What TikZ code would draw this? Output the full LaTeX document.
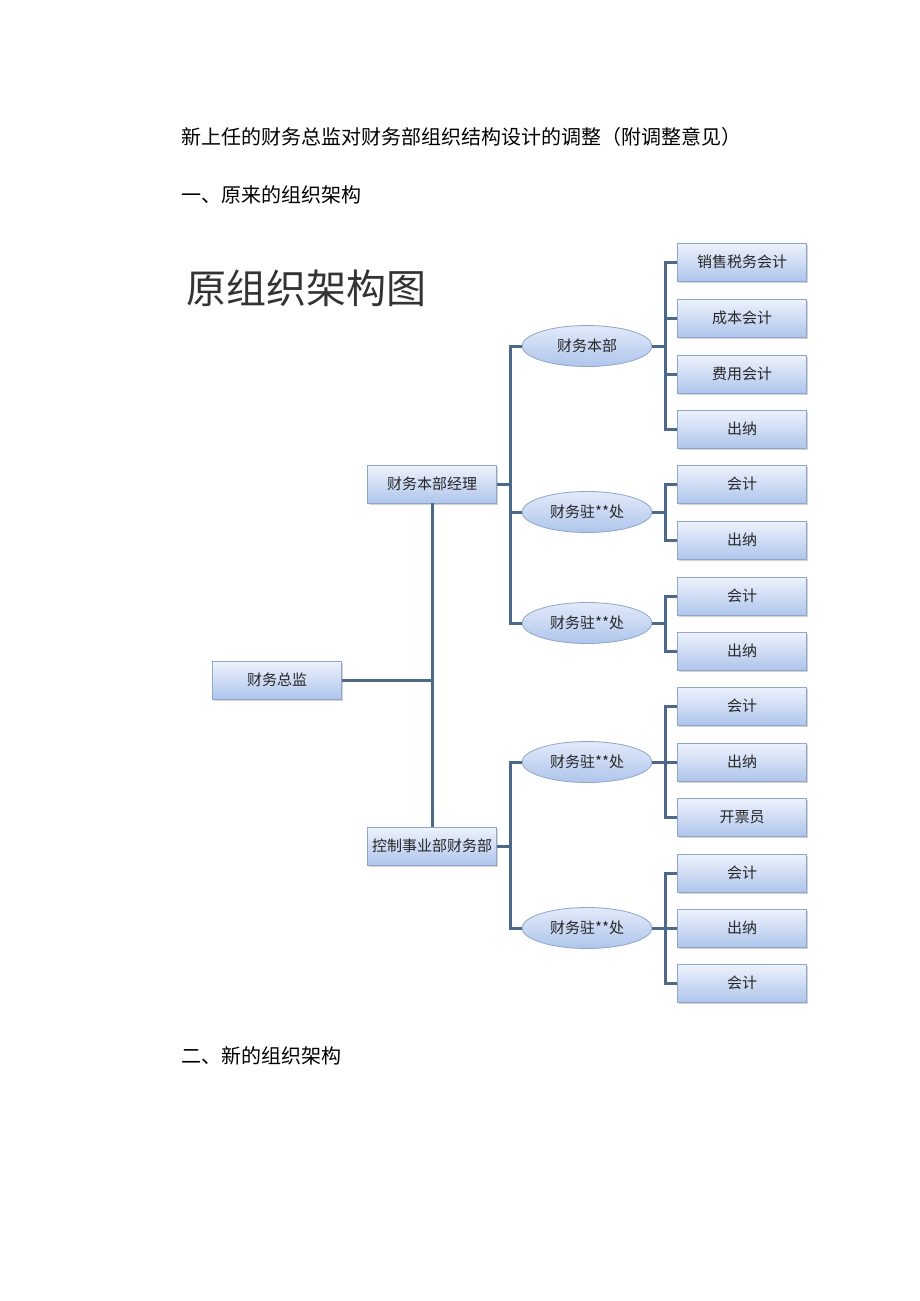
\documentclass[tikz,border=0pt]{standalone}
\usepackage{fontspec}
\setmainfont{Noto Sans CJK SC}
\usetikzlibrary{shadows,shapes.geometric}

\definecolor{linkblue}{HTML}{4C6A88}
\definecolor{boxtop}{HTML}{EEF3FC}
\definecolor{boxbot}{HTML}{AFC5EC}
\definecolor{boxline}{HTML}{8DA6C9}

\tikzset{
  post/.style={rectangle, minimum width=129pt, minimum height=38pt, inner sep=0pt,
    draw=boxline, line width=0.8pt, top color=boxtop, bottom color=boxbot,
    drop shadow={opacity=0.35, shadow xshift=1.5pt, shadow yshift=-1.5pt},
    font=\fontsize{15}{15}\selectfont, text=black!85},
  unit/.style={ellipse, minimum width=130pt, minimum height=41pt, inner sep=0pt,
    draw=boxline, line width=0.8pt, top color=boxtop!80!boxbot, bottom color=boxbot,
    font=\fontsize{15}{15}\selectfont, text=black!85},
  link/.style={draw=linkblue, line width=3pt},
  heading/.style={anchor=west, inner sep=0pt, font=\fontsize{20}{20}\selectfont}
}

\begin{document}
\begin{tikzpicture}[x=1pt, y=-1pt]
  \useasboundingbox (0,0) rectangle (920,1301);

  % ---- page text ----
  \node[heading] (title) at (181,137)
    {新上任的财务总监对财务部组织结构设计的调整（附调整意见）};
  \node[heading] (sec1) at (181,195) {一、原来的组织架构};
  \node[heading] (sec2) at (181,1056) {二、新的组织架构};
  \node[anchor=west, inner sep=0pt, font=\fontsize{40}{40}\selectfont,
    text=black!80] (charttitle) at (186,288) {原组织架构图};

  % ---- left and middle levels ----
  \node[post] (cfo) at (277,680) {财务总监};
  \node[post] (hqmgr) at (432,484) {财务本部经理};
  \node[post] (ctrl) at (432,846) {控制事业部财务部};

  % ---- units ----
  \node[unit] (hq) at (587,346) {财务本部};
  \node[unit] (stA) at (587,512) {财务驻**处};
  \node[unit] (stB) at (587,623) {财务驻**处};
  \node[unit] (stC) at (587,762) {财务驻**处};
  \node[unit] (stD) at (587,928) {财务驻**处};

  % ---- posts (right column) ----
  \node[post] (hq1) at (742,262) {销售税务会计};
  \node[post] (hq2) at (742,318) {成本会计};
  \node[post] (hq3) at (742,374) {费用会计};
  \node[post] (hq4) at (742,429) {出纳};
  \node[post] (a1) at (742,484) {会计};
  \node[post] (a2) at (742,540) {出纳};
  \node[post] (b1) at (742,596) {会计};
  \node[post] (b2) at (742,651) {出纳};
  \node[post] (c1) at (742,706) {会计};
  \node[post] (c2) at (742,762) {出纳};
  \node[post] (c3) at (742,817) {开票员};
  \node[post] (d1) at (742,873) {会计};
  \node[post] (d2) at (742,928) {出纳};
  \node[post] (d3) at (742,983) {会计};

  % ---- connectors ----
  \draw[link] (hqmgr.south) -- (ctrl.north);
  \draw[link] (cfo.east) -- (cfo.east -| hqmgr.south);
  \foreach \u in {hq, stA, stB}
    \draw[link] (hqmgr.east) -- ++(14,0) |- (\u.west);
  \foreach \u in {stC, stD}
    \draw[link] (ctrl.east) -- ++(14,0) |- (\u.west);
  \foreach \p in {hq1, hq2, hq3, hq4}
    \draw[link] (hq.east) -- ++(13,0) |- (\p.west);
  \foreach \p in {a1, a2}
    \draw[link] (stA.east) -- ++(13,0) |- (\p.west);
  \foreach \p in {b1, b2}
    \draw[link] (stB.east) -- ++(13,0) |- (\p.west);
  \foreach \p in {c1, c2, c3}
    \draw[link] (stC.east) -- ++(13,0) |- (\p.west);
  \foreach \p in {d1, d2, d3}
    \draw[link] (stD.east) -- ++(13,0) |- (\p.west);
\end{tikzpicture}
\end{document}
